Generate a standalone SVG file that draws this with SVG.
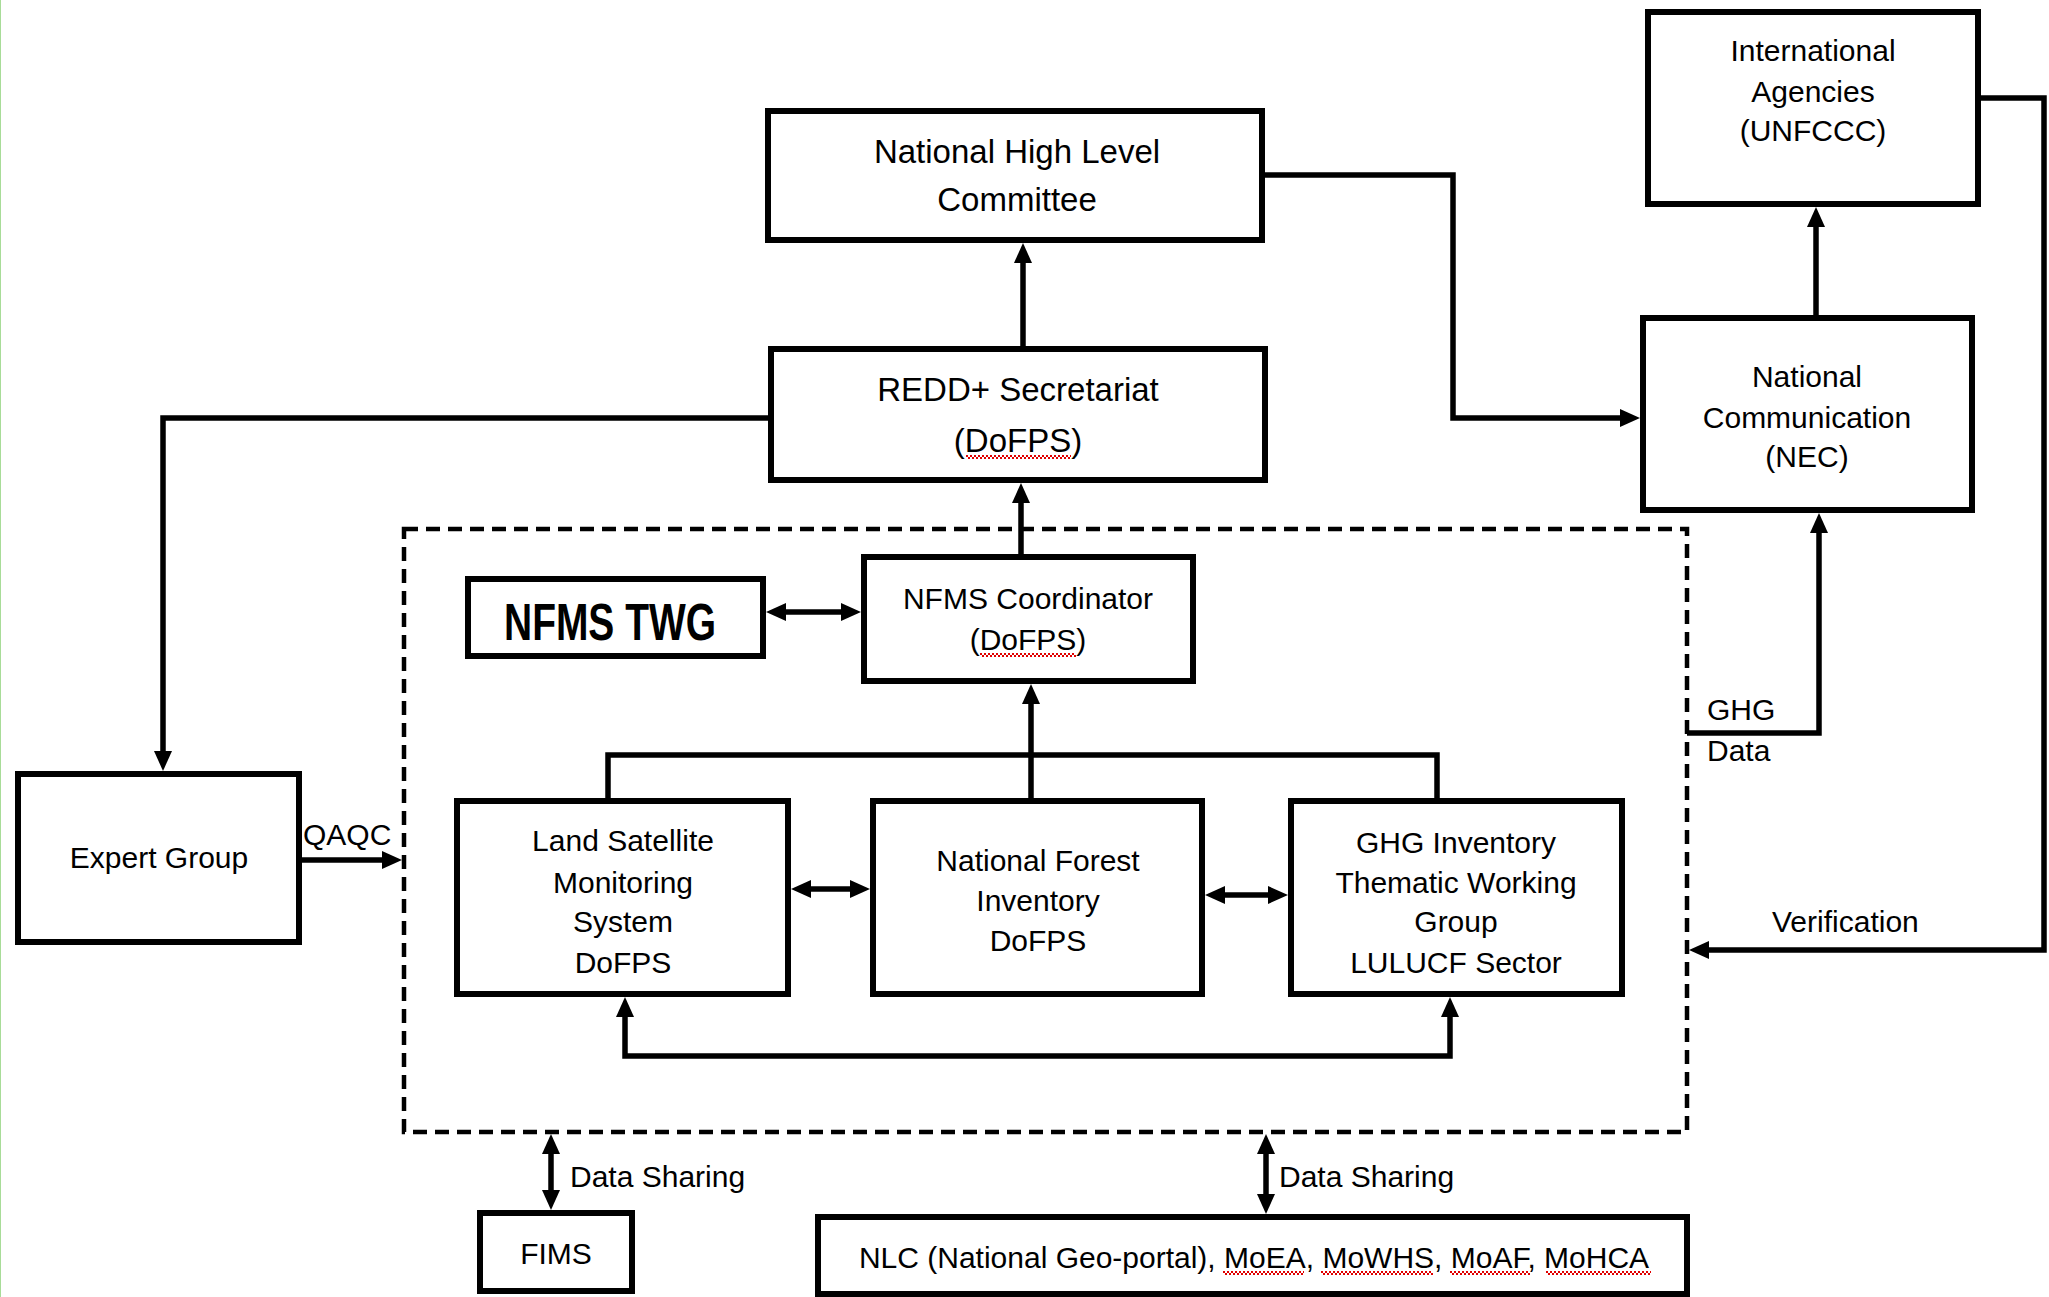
<svg xmlns="http://www.w3.org/2000/svg" width="2049" height="1297" viewBox="0 0 2049 1297">
<defs>
<style>
.box{fill:#fff;stroke:#000;stroke-width:6}
.dash{fill:none;stroke:#000;stroke-width:4.5;stroke-dasharray:14 8}
.c{fill:none;stroke:#000;stroke-width:5.5}
.t{font-family:"Liberation Sans",Arial,sans-serif;font-size:30px;fill:#000;text-anchor:middle}
.l{font-family:"Liberation Sans",Arial,sans-serif;font-size:30px;fill:#000}
.big{font-size:33px}
.twg{font-size:52px;font-weight:bold}
.sq{fill:none;stroke:#e00000;stroke-width:2;stroke-dasharray:2 2}
</style>
<marker id="ah" viewBox="0 0 20 18" refX="10" refY="9" markerWidth="20" markerHeight="18" markerUnits="userSpaceOnUse" orient="auto-start-reverse">
<path d="M0,0 L20,9 L0,18 z" fill="#000"/>
</marker>
</defs>
<rect width="2049" height="1297" fill="#fff"/>
<line x1="0.5" y1="0" x2="0.5" y2="1297" stroke="#a8dc98" stroke-width="1"/>

<rect id="nfms-boundary" class="dash" x="404" y="529" width="1283" height="603"/>

<g id="connectors">
<path class="c" d="M1023,349 V253" marker-end="url(#ah)"/>
<path class="c" d="M1021,557 V493" marker-end="url(#ah)"/>
<path class="c" d="M1265,175 H1453 V418 H1630" marker-end="url(#ah)"/>
<path class="c" d="M1816,318 V217" marker-end="url(#ah)"/>
<path class="c" d="M1981,98 H2044 V950 H1699" marker-end="url(#ah)"/>
<path class="c" d="M1687,733 H1819 V523" marker-end="url(#ah)"/>
<path class="c" d="M771,418 H163 V761" marker-end="url(#ah)"/>
<path class="c" d="M302,860 H392" marker-end="url(#ah)"/>
<path class="c" d="M776,612 H851" marker-start="url(#ah)" marker-end="url(#ah)"/>
<path class="c" d="M608,801 V755 H1437 V801"/>
<path class="c" d="M1031,801 V694" marker-end="url(#ah)"/>
<path class="c" d="M801,889 H860" marker-start="url(#ah)" marker-end="url(#ah)"/>
<path class="c" d="M1215,895 H1278" marker-start="url(#ah)" marker-end="url(#ah)"/>
<path class="c" d="M625,1007 V1056 H1450 V1007" marker-start="url(#ah)" marker-end="url(#ah)"/>
<path class="c" d="M551,1144 V1200" marker-start="url(#ah)" marker-end="url(#ah)"/>
<path class="c" d="M1266,1144 V1204" marker-start="url(#ah)" marker-end="url(#ah)"/>
<text class="l" x="303" y="845">QAQC</text>
<text class="l" x="1772" y="932">Verification</text>
<text class="l" x="1707" y="720">GHG</text>
<text class="l" x="1707" y="761">Data</text>
<text class="l" x="570" y="1187">Data Sharing</text>
<text class="l" x="1279" y="1187">Data Sharing</text>
</g>

<g id="nhlc">
<rect class="box" x="768" y="111" width="494" height="129"/>
<text class="t big" x="1017" y="163">National High Level</text>
<text class="t big" x="1017" y="211">Committee</text>
</g>

<g id="redd-secretariat">
<rect class="box" x="771" y="349" width="494" height="131"/>
<text class="t big" x="1018" y="401">REDD+ Secretariat</text>
<text class="t big" x="1018" y="452">(DoFPS)</text>
<path class="sq" d="M966,456 H1071"/>
<path class="sq" d="M968,458 H1071"/>
</g>

<g id="international-agencies">
<rect class="box" x="1648" y="12" width="330" height="192"/>
<text class="t" x="1813" y="61">International</text>
<text class="t" x="1813" y="102">Agencies</text>
<text class="t" x="1813" y="141">(UNFCCC)</text>
</g>

<g id="national-communication">
<rect class="box" x="1643" y="318" width="329" height="192"/>
<text class="t" x="1807" y="387">National</text>
<text class="t" x="1807" y="428">Communication</text>
<text class="t" x="1807" y="467">(NEC)</text>
</g>

<g id="nfms-twg">
<rect class="box" x="468" y="579" width="295" height="77"/>
<text class="t twg" x="610" y="640" textLength="212" lengthAdjust="spacingAndGlyphs">NFMS TWG</text>
</g>

<g id="nfms-coordinator">
<rect class="box" x="864" y="557" width="329" height="124"/>
<text class="t" x="1028" y="609">NFMS Coordinator</text>
<text class="t" x="1028" y="650">(DoFPS)</text>
<path class="sq" d="M980,654 H1076"/>
<path class="sq" d="M982,656 H1076"/>
</g>

<g id="expert-group">
<rect class="box" x="18" y="774" width="281" height="168"/>
<text class="t" x="159" y="868">Expert Group</text>
</g>

<g id="land-satellite">
<rect class="box" x="457" y="801" width="331" height="193"/>
<text class="t" x="623" y="851">Land Satellite</text>
<text class="t" x="623" y="893">Monitoring</text>
<text class="t" x="623" y="932">System</text>
<text class="t" x="623" y="973">DoFPS</text>
</g>

<g id="national-forest-inventory">
<rect class="box" x="873" y="801" width="329" height="193"/>
<text class="t" x="1038" y="871">National Forest</text>
<text class="t" x="1038" y="911">Inventory</text>
<text class="t" x="1038" y="951">DoFPS</text>
</g>

<g id="ghg-inventory">
<rect class="box" x="1291" y="801" width="331" height="193"/>
<text class="t" x="1456" y="853">GHG Inventory</text>
<text class="t" x="1456" y="893">Thematic Working</text>
<text class="t" x="1456" y="932">Group</text>
<text class="t" x="1456" y="973">LULUCF Sector</text>
</g>

<g id="fims">
<rect class="box" x="480" y="1213" width="152" height="78"/>
<text class="t" x="556" y="1264">FIMS</text>
</g>

<g id="nlc">
<rect class="box" x="818" y="1217" width="869" height="77"/>
<text class="t" x="1254" y="1268">NLC (National Geo-portal), MoEA, MoWHS, MoAF, MoHCA</text>
<path class="sq" d="M1223,1272 H1304 M1321,1272 H1433 M1450,1272 H1530 M1546,1272 H1651"/>
<path class="sq" d="M1225,1274 H1304 M1323,1274 H1433 M1452,1274 H1530 M1548,1274 H1651"/>
</g>
</svg>
